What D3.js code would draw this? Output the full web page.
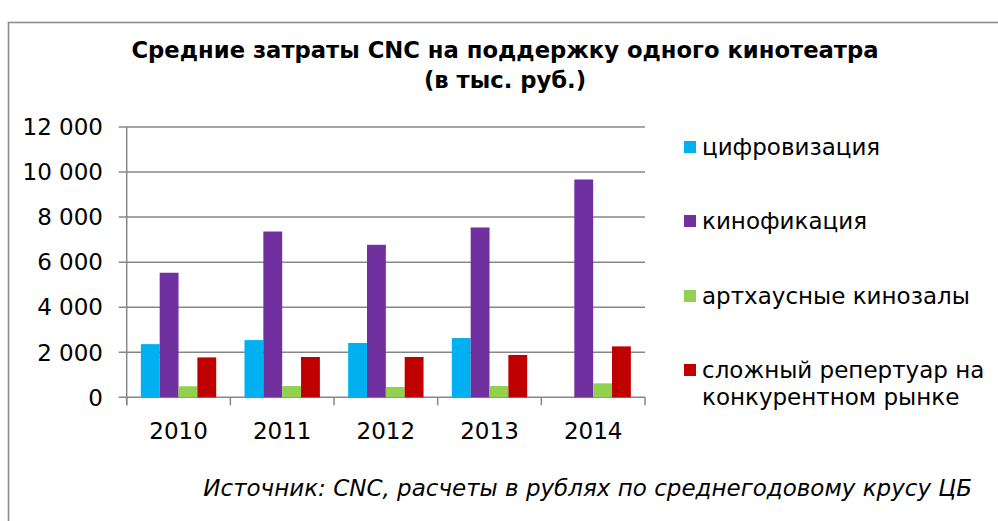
<!DOCTYPE html>
<html><head><meta charset="utf-8">
<script src="https://cdn.jsdelivr.net/npm/d3@7/dist/d3.min.js"></script>
<style>html,body{margin:0;padding:0;background:#fff;} svg{display:block;}</style>
</head><body>
<svg id="chart" width="998" height="521"></svg>
<script>
const years = ["2010","2011","2012","2013","2014"];
const seriesNames = ["цифровизация","кинофикация","артхаусные кинозалы","сложный репертуар на конкурентном рынке"];
const legendLines = [["цифровизация"],["кинофикация"],["артхаусные кинозалы"],["сложный репертуар на","конкурентном рынке"]];
const colors = ["#00B0F0","#7030A0","#92D050","#C00000"];
const digitization = [2360, 2540, 2410, 2630, null];
const cinemaNetwork = [5530, 7360, 6770, 7540, 9670];
const arthouse = [490, 500, 460, 500, 620];
const complexRepertoire = [1770, 1790, 1790, 1880, 2260];
const yTicks = [0, 2000, 4000, 6000, 8000, 10000, 12000];
const titleLines = ["Средние затраты CNC на поддержку одного кинотеатра","(в тыс. руб.)"];
const sourceText = "Источник: CNC, расчеты в рублях по среднегодовому крусу ЦБ";

const series = [digitization, cinemaNetwork, arthouse, complexRepertoire];
const svg = d3.select("#chart");
const font = "'DejaVu Sans', Verdana, sans-serif";
const fs = 23;

svg.append("rect").attr("x",8.5).attr("y",22.5).attr("width",1100).attr("height",600)
  .attr("fill","#fff").attr("stroke","#8c8c8c").attr("stroke-width",1.6);

const x0 = 126.7, x1 = 645, yTop = 127, yBot = 397.3;
const x = d3.scaleBand().domain(years).range([x0, x1]).paddingInner(0).paddingOuter(0);
const bw = x.bandwidth();
const gap = bw * 1.5 / 5.5; // gap width 150%
const xs = d3.scaleBand().domain(d3.range(4)).range([gap/2, bw - gap/2]).padding(0);
const y = d3.scaleLinear().domain([0, 12000]).range([yBot, yTop]);

// gridlines
svg.append("g").selectAll("line").data(yTicks).join("line")
  .attr("x1", x0 - 8).attr("x2", x1)
  .attr("y1", d => y(d)).attr("y2", d => y(d))
  .attr("stroke", "#878787").attr("stroke-width", 1.5);

// y axis line
svg.append("line").attr("x1",x0).attr("x2",x0).attr("y1",yTop).attr("y2",yBot+8)
  .attr("stroke","#878787").attr("stroke-width",1.5);

// x tick marks
const bounds = years.map(d => x(d)).concat([x1]);
svg.append("g").selectAll("line").data(bounds).join("line")
  .attr("x1", d => d).attr("x2", d => d).attr("y1", yBot).attr("y2", yBot + 8)
  .attr("stroke","#878787").attr("stroke-width",1.5);

// y tick labels
svg.append("g").selectAll("text").data(yTicks).join("text")
  .attr("x", 103).attr("y", d => y(d)).attr("dy","0.36em")
  .attr("text-anchor","end").attr("font-family",font).attr("font-size",fs).attr("fill","#000")
  .text(d => d3.format(",")(d).replace(/,/g, " "));

// x labels
svg.append("g").selectAll("text").data(years).join("text")
  .attr("x", d => x(d) + bw/2).attr("y", 439)
  .attr("text-anchor","middle").attr("font-family",font).attr("font-size",fs).attr("fill","#000")
  .text(d => d);

// bars
series.forEach((vals, si) => {
  svg.append("g").selectAll("rect").data(years.map((yr,i)=>({yr, v: vals[i]})).filter(d => d.v != null)).join("rect")
    .attr("x", d => x(d.yr) + xs(si)).attr("width", xs.bandwidth())
    .attr("y", d => y(d.v)).attr("height", d => yBot - y(d.v))
    .attr("fill", colors[si]);
});

// legend
const legY = [147, 221, 296, 370];
legendLines.forEach((lines, i) => {
  const g = svg.append("g");
  g.append("rect").attr("x",684).attr("y",legY[i]-6).attr("width",12).attr("height",12).attr("fill",colors[i]);
  lines.forEach((t, j) => {
    g.append("text").attr("x",702).attr("y",legY[i] + j*27).attr("dy","0.36em")
      .attr("font-family",font).attr("font-size",fs).attr("fill","#000").text(t);
  });
});

// title
titleLines.forEach((t, i) => {
  svg.append("text").attr("x", 505).attr("y", 58 + i*30)
    .attr("text-anchor","middle").attr("font-family",font).attr("font-weight","bold")
    .attr("font-size",22.7).attr("fill","#000").text(t);
});

// source
svg.append("text").attr("x", 972).attr("y", 496).attr("text-anchor","end")
  .attr("font-family",font).attr("font-style","italic").attr("font-size",23).attr("fill","#000")
  .text(sourceText);
</script>
</body></html>
